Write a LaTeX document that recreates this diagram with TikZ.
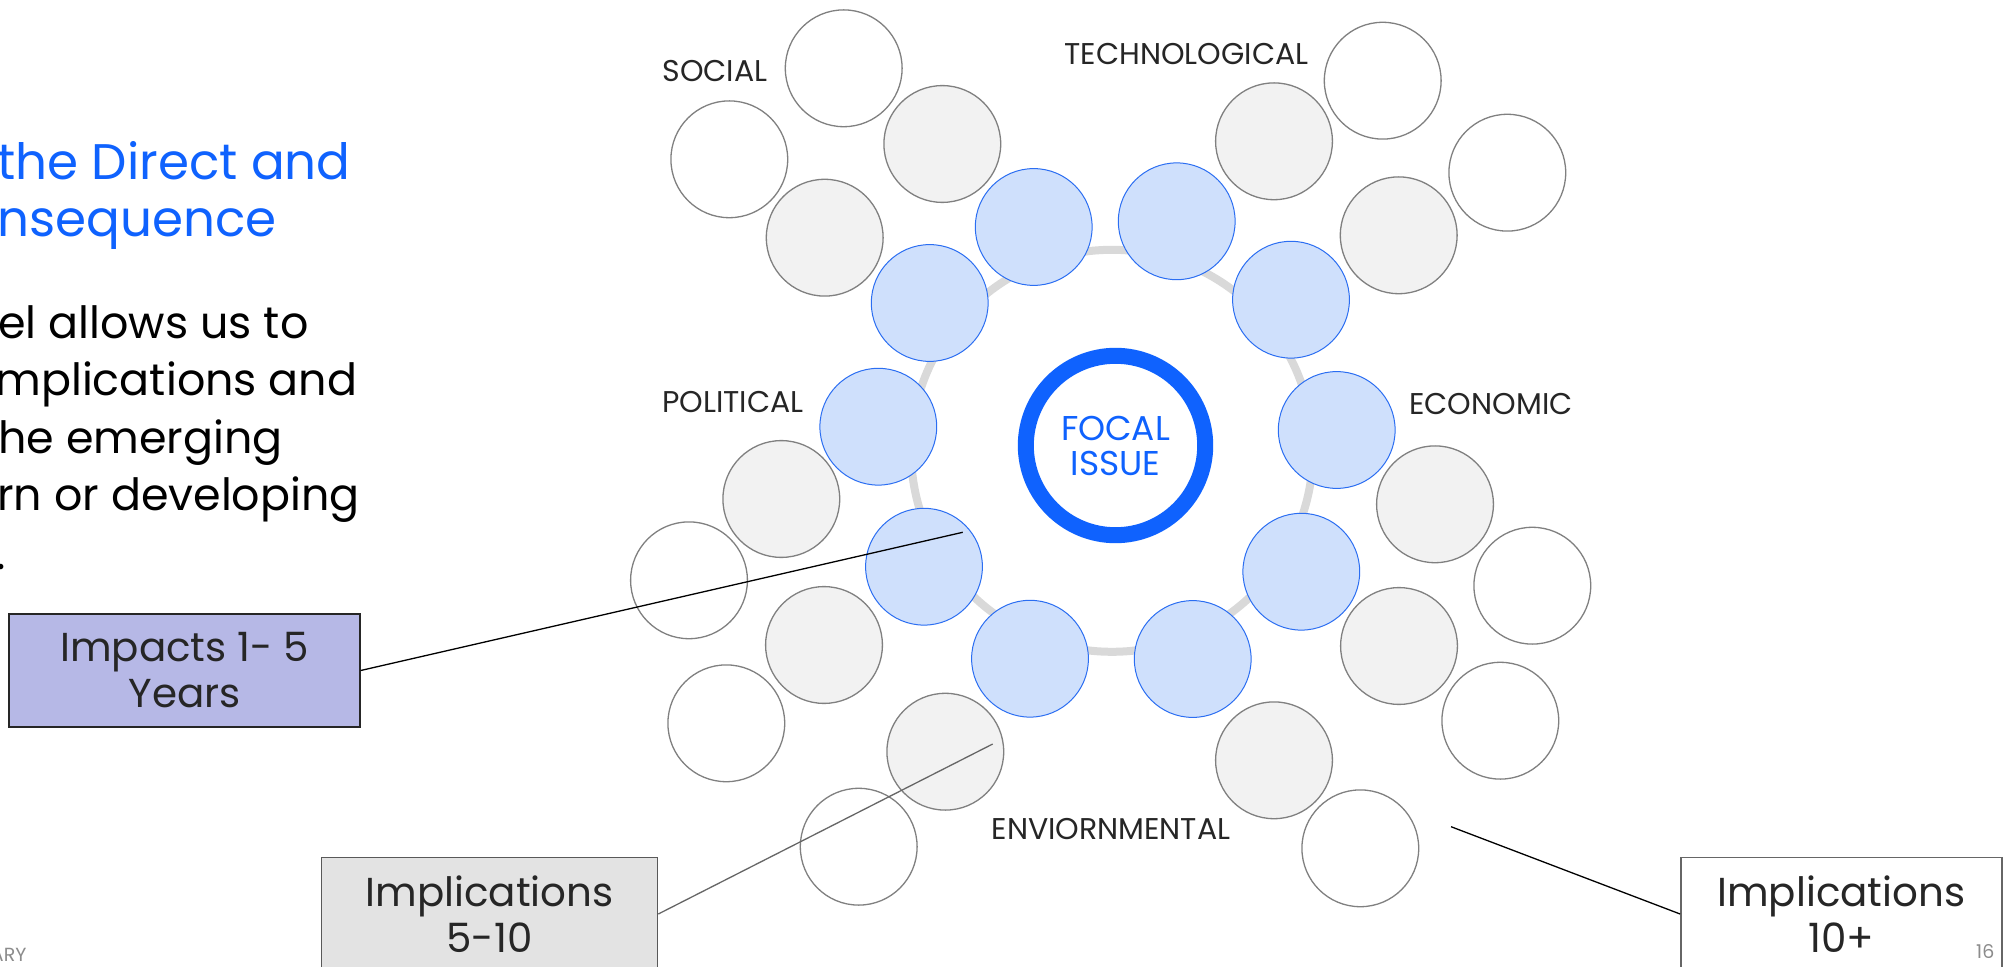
\documentclass[tikz,border=0pt]{standalone}
\usepackage{fontspec}
\setmainfont{Poppins}
\definecolor{cblue}{HTML}{0F62FE}
\definecolor{cbluefill}{HTML}{CFE0FC}
\definecolor{cblueline}{HTML}{2B6EF2}
\definecolor{cgrayfill}{HTML}{F2F2F2}
\definecolor{cgrayline}{HTML}{808080}
\definecolor{cring}{HTML}{D9D9D9}
\definecolor{clabel}{HTML}{262626}
\definecolor{cimp}{HTML}{B6B8E6}
\definecolor{cboxgray}{HTML}{E3E3E3}
\definecolor{cfoot}{HTML}{8C8C8C}
\tikzset{
  circ/.style={circle, minimum size=58.4pt, inner sep=0pt},
  bluec/.style={circ, draw=cblueline, line width=0.5pt, fill=cbluefill},
  grayc/.style={circ, draw=cgrayline, line width=0.65pt, fill=cgrayfill},
  whitec/.style={circ, draw=cgrayline, line width=0.65pt, fill=white},
  lbl/.style={font=\fontsize{15pt}{17pt}\selectfont, text=clabel, inner sep=0pt, anchor=base},
  headtxt/.style={font=\fontsize{25pt}{28pt}\selectfont, text=cblue, inner sep=0pt, anchor=base west},
  bodytxt/.style={font=\fontsize{22.2pt}{24pt}\selectfont, text=black, inner sep=0pt, anchor=base west},
  tagbox/.style={rectangle, minimum height=56.5pt, inner sep=0pt, align=center,
    font=\fontsize{20.2pt}{23pt}\selectfont, text=black!85},
  foot/.style={font=\fontsize{9.5pt}{11pt}\selectfont, text=cfoot, inner sep=0pt, anchor=base east},
  link/.style={line width=0.65pt}
}
\begin{document}
\begin{tikzpicture}[x=0.5pt,y=-0.5pt]
\useasboundingbox (0,0) rectangle (2005,967);
\clip (0,0) rectangle (2005,967);
\fill[white] (0,0) rectangle (2005,967);

% left text (cut at the left edge, as printed)
\node[headtxt] (h1) at (-3,180) {the Direct and};
\node[headtxt] (h2) at (-3,236.7) {nsequence};
\node[bodytxt] (t1) at (-2,338.3) {el allows us to};
\node[bodytxt] (t2) at (-5,396) {mplications and};
\node[bodytxt] (t3) at (-2,453.3) {he emerging};
\node[bodytxt] (t4) at (-3,510.7) {rn or developing};
\node[bodytxt] (t5) at (-4,569) {.};

% ring
\node[circle, draw=cring, line width=4pt, minimum size=201pt, inner sep=0pt] (ring) at (1112,450.8) {};

% white circles
\node[whitec] (w1) at (843.7,68.3) {};
\node[whitec] (w2) at (729.3,159.3) {};
\node[whitec] (w3) at (1382.7,80.7) {};
\node[whitec] (w4) at (1507.3,172.7) {};
\node[whitec] (w5) at (1532.3,585.7) {};
\node[whitec] (w6) at (1500.3,720.7) {};
\node[whitec] (w7) at (1360.3,848.3) {};
\node[whitec] (w8) at (858.7,846.7) {};
\node[whitec] (w9) at (726.3,723.3) {};
\node[whitec] (w10) at (689,580.3) {};

% gray circles
\node[grayc] (g1) at (942.3,144) {};
\node[grayc] (g2) at (824.7,237.7) {};
\node[grayc] (g3) at (1274,141.3) {};
\node[grayc] (g4) at (1398.7,235.3) {};
\node[grayc] (g5) at (1435,504.3) {};
\node[grayc] (g6) at (1399,646) {};
\node[grayc] (g7) at (1274,760.3) {};
\node[grayc] (g8) at (945.3,751.7) {};
\node[grayc] (g9) at (824,645) {};
\node[grayc] (g10) at (781.3,499) {};

% blue circles
\node[bluec] (b1) at (1033.7,227) {};
\node[bluec] (b2) at (1176.7,221.3) {};
\node[bluec] (b3) at (1291,299.7) {};
\node[bluec] (b4) at (1336.7,430) {};
\node[bluec] (b5) at (1301.3,571.7) {};
\node[bluec] (b6) at (1192.7,659) {};
\node[bluec] (b7) at (1030,658.7) {};
\node[bluec] (b8) at (924,566.7) {};
\node[bluec] (b9) at (878.3,426.7) {};
\node[bluec] (b10) at (929.7,303) {};

% focal issue
\node[circle, draw=cblue, line width=8pt, minimum size=89.7pt, inner sep=0pt,
  text=cblue, align=center, font=\fontsize{17.2pt}{17.5pt}\selectfont] (focal) at (1115.5,445.5) {FOCAL\\ISSUE};

% category labels
\node[lbl] (social) at (715,82) {SOCIAL};
\node[lbl] (tech) at (1186.5,65) {TECHNOLOGICAL};
\node[lbl] (pol) at (733,413) {POLITICAL};
\node[lbl] (econ) at (1491,415) {ECONOMIC};
\node[lbl] (env) at (1111,839) {ENVIORNMENTAL};

% tag boxes
\node[tagbox, draw=black!85, line width=0.7pt, fill=cimp, minimum width=175.5pt] (imp) at (184.5,670.5) {Impacts 1- 5\\Years};
\node[tagbox, draw=black!65, line width=0.7pt, fill=cboxgray, minimum width=168.1pt] (impmid) at (489.5,914) {Implications\\5-10};
\node[tagbox, draw=black!60, line width=0.7pt, fill=white, minimum width=160.6pt] (implong) at (1841.4,914) {Implications\\10+};

% connectors
\coordinate (c1) at (962.7,532.3);
\coordinate (c2) at (992.7,744);
\coordinate (c3) at (1451,826.7);
\draw[link, black] (imp.east) -- (c1);
\draw[link, black!60] (impmid.east) -- (c2);
\draw[link, black] (c3) -- (implong.west);

% footer
\node[foot] (ary) at (26.8,961.7) {ARY};
\node[foot] (pg) at (1994.7,958.3) {16};
\end{tikzpicture}
\end{document}
